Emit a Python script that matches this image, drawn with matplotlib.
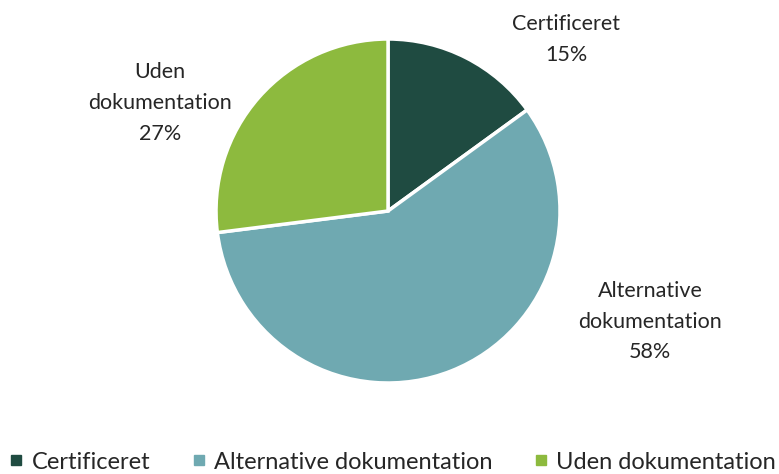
import matplotlib
matplotlib.use("Agg")
import matplotlib.pyplot as plt
from matplotlib.lines import Line2D

categories = ["Certificeret", "Alternative dokumentation", "Uden dokumentation"]
values = [15, 58, 27]
labels = ["Certificeret\n15%", "Alternative\ndokumentation\n58%", "Uden\ndokumentation\n27%"]
colors = ["#1f4b41", "#6fa9b1", "#8dba3e"]

plt.rcParams['font.family'] = ['Lato', 'DejaVu Sans']

fig = plt.figure(figsize=(7.79, 4.74), dpi=100)
ax = fig.add_axes([0.2773, 0.192, 0.4416, 0.7257])
wedges, _ = ax.pie(values, colors=colors, startangle=90, counterclock=False,
                   wedgeprops=dict(edgecolor="white", linewidth=2.5))
ax.set_xlim(-1, 1)
ax.set_ylim(-1, 1)
ax.set_aspect('equal')

pos = [(1.035, 0.997), (1.523, -0.645), (-1.326, 0.628)]
for (x, y), lab in zip(pos, labels):
    ax.text(x, y, lab, ha='center', va='center', fontsize=15.5, color='#262626',
            linespacing=1.66, clip_on=False)

handles = [Line2D([0], [0], marker='s', linestyle='none', markersize=7,
                  markerfacecolor=c, markeredgecolor=c) for c in colors]
fig.legend(handles, categories, loc='center left', ncol=3, frameon=False,
           bbox_to_anchor=(0.012, 0.025), fontsize=17, handlelength=0.6,
           handletextpad=0.35, columnspacing=1.75, borderpad=0, borderaxespad=0,
           labelcolor='#262626')

fig.savefig("out.png", dpi=100)
